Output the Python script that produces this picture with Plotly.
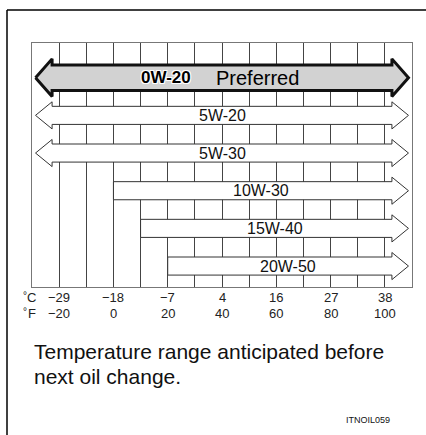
import plotly.graph_objects as go

# Oil grades and the outside temperatures (°F) each one covers.
# None means the range stays open toward that end of the scale.
grades = ["0W-20", "5W-20", "5W-30", "10W-30", "15W-40", "20W-50"]
low_f = [None, None, None, 0, 10, 20]
high_f = [None, None, None, None, None, None]
preferred = "0W-20"
preferred_note = "Preferred"

# Temperature scale
f_ticks = [-20, 0, 20, 40, 60, 80, 100]
c_labels = ["−29", "−18", "−7", "4", "16", "27", "38"]
f_labels = ["−20", "0", "20", "40", "60", "80", "100"]

caption_lines = ["Temperature range anticipated before", "next oil change."]
figure_code = "ITNOIL059"

X_MIN, X_MAX = -30, 110

# ---- page geometry (pixels) ----
W, H = 426, 435
L, R, T, B = 32, 412, 43, 287  # plotting box


def px_x(px):
    return (px - L) / (R - L)


def px_y(py):
    return (B - py) / (B - T)


# Row layout: one row per grade, ~37.7 px apart
ROW_PX = 37.67
ROW0_PX = 34.7
y_top = -ROW0_PX / ROW_PX
y_bot = ((B - T) - ROW0_PX) / ROW_PX

TIP_INSET = 1.3   # °F between box edge and arrow tip
HEAD_LEN = 6.1    # °F length of an arrowhead

FONT = "Liberation Sans, Arial, sans-serif"

fig = go.Figure()

for i, (g, lo, hi) in enumerate(zip(grades, low_f, high_f)):
    is_pref = g == preferred
    h = 0.34 if is_pref else 0.24   # half shaft height
    hh = 0.50 if is_pref else 0.36  # half head height
    y = i

    xs, ys = [], []
    # left end
    if lo is None:
        left_tip = X_MIN + TIP_INSET
        lb = left_tip + HEAD_LEN
        xs += [left_tip, lb, lb]
        ys += [y, y - hh, y - h]
        left_start = left_tip
    else:
        xs += [lo, lo]
        ys += [y + h, y - h]
        left_start = lo
    # right end
    if hi is None:
        right_tip = X_MAX - TIP_INSET
        rb = right_tip - HEAD_LEN
        xs += [rb, rb, right_tip, rb, rb]
        ys += [y - h, y - hh, y, y + hh, y + h]
        right_end = right_tip
    else:
        xs += [hi, hi]
        ys += [y - h, y + h]
        right_end = hi
    # back along the bottom edge
    if lo is None:
        xs += [lb, lb, left_tip]
        ys += [y + h, y + hh, y]
    else:
        xs += [lo]
        ys += [y + h]

    fig.add_trace(go.Scatter(
        x=xs, y=ys, mode="lines", fill="toself",
        fillcolor="#d2d2d2" if is_pref else "white",
        line=dict(color="#111" if is_pref else "#333", width=3 if is_pref else 1),
        hoverinfo="skip", showlegend=False,
    ))

    mid = (left_start + right_end) / 2
    if is_pref:
        fig.add_annotation(
            x=mid, y=y, xref="x", yref="y", text="<b>%s</b>" % g,
            showarrow=False, xanchor="right", yanchor="middle", xshift=-29,
            font=dict(family=FONT, size=17, color="black",
                      shadow="1px 1px 0 white, -1px -1px 0 white, 1px -1px 0 white, -1px 1px 0 white"),
        )
        fig.add_annotation(
            x=mid, y=y, xref="x", yref="y", text=preferred_note,
            showarrow=False, xanchor="left", yanchor="middle", xshift=-8,
            font=dict(family=FONT, size=20, color="black"),
        )
    else:
        fig.add_annotation(
            x=mid, y=y, xref="x", yref="y", text=g,
            showarrow=False, xanchor="center", yanchor="middle",
            font=dict(family=FONT, size=16, color="#111"),
        )

# Temperature labels under the grid
for t, c, f in zip(f_ticks, c_labels, f_labels):
    fig.add_annotation(x=t, y=0, xref="x", yref="paper", text=c, showarrow=False,
                       xanchor="center", yanchor="middle", yshift=-10,
                       font=dict(family=FONT, size=13, color="#222"))
    fig.add_annotation(x=t, y=0, xref="x", yref="paper", text=f, showarrow=False,
                       xanchor="center", yanchor="middle", yshift=-26,
                       font=dict(family=FONT, size=13, color="#222"))
for unit, shift in (("C", -10), ("F", -26)):
    fig.add_annotation(x=px_x(38), y=0, xref="paper", yref="paper", text=unit,
                       showarrow=False, xanchor="right", yanchor="middle", yshift=shift,
                       font=dict(family=FONT, size=13, color="#222"))
    fig.add_annotation(x=px_x(29), y=0, xref="paper", yref="paper", text="°",
                       showarrow=False, xanchor="right", yanchor="middle", yshift=shift + 2,
                       font=dict(family=FONT, size=10, color="#222"))

# Caption and figure code
for line, py in zip(caption_lines, (351, 376)):
    fig.add_annotation(x=px_x(32), y=px_y(py), xref="paper", yref="paper", text=line,
                       showarrow=False, xanchor="left", yanchor="middle",
                       font=dict(family=FONT, size=21, color="#111"))
fig.add_annotation(x=px_x(392), y=px_y(420), xref="paper", yref="paper", text=figure_code,
                   showarrow=False, xanchor="right", yanchor="middle",
                   font=dict(family=FONT, size=9, color="#111"))

# Page frame: top rule and left rule
fig.add_shape(type="line", xref="paper", yref="paper",
              x0=px_x(7), y0=px_y(10), x1=px_x(W), y1=px_y(10),
              line=dict(color="black", width=1.5))
fig.add_shape(type="line", xref="paper", yref="paper",
              x0=px_x(7), y0=px_y(10), x1=px_x(7), y1=px_y(H),
              line=dict(color="black", width=1.5))

fig.update_layout(
    width=W, height=H,
    margin=dict(l=L, r=W - R, t=T, b=H - B),
    paper_bgcolor="white", plot_bgcolor="white",
    xaxis=dict(range=[X_MIN, X_MAX], tick0=X_MIN, dtick=10, showgrid=True,
               gridcolor="#444", gridwidth=1, zeroline=False, showticklabels=False,
               ticks="", showline=True, mirror=True, linecolor="#777", linewidth=1,
               fixedrange=True),
    yaxis=dict(range=[y_bot, y_top], showgrid=False, zeroline=False,
               showticklabels=False, ticks="", showline=True, mirror=True,
               linecolor="#777", linewidth=1, fixedrange=True),
    showlegend=False,
)

fig.write_html("out.html", config={"displayModeBar": False})
